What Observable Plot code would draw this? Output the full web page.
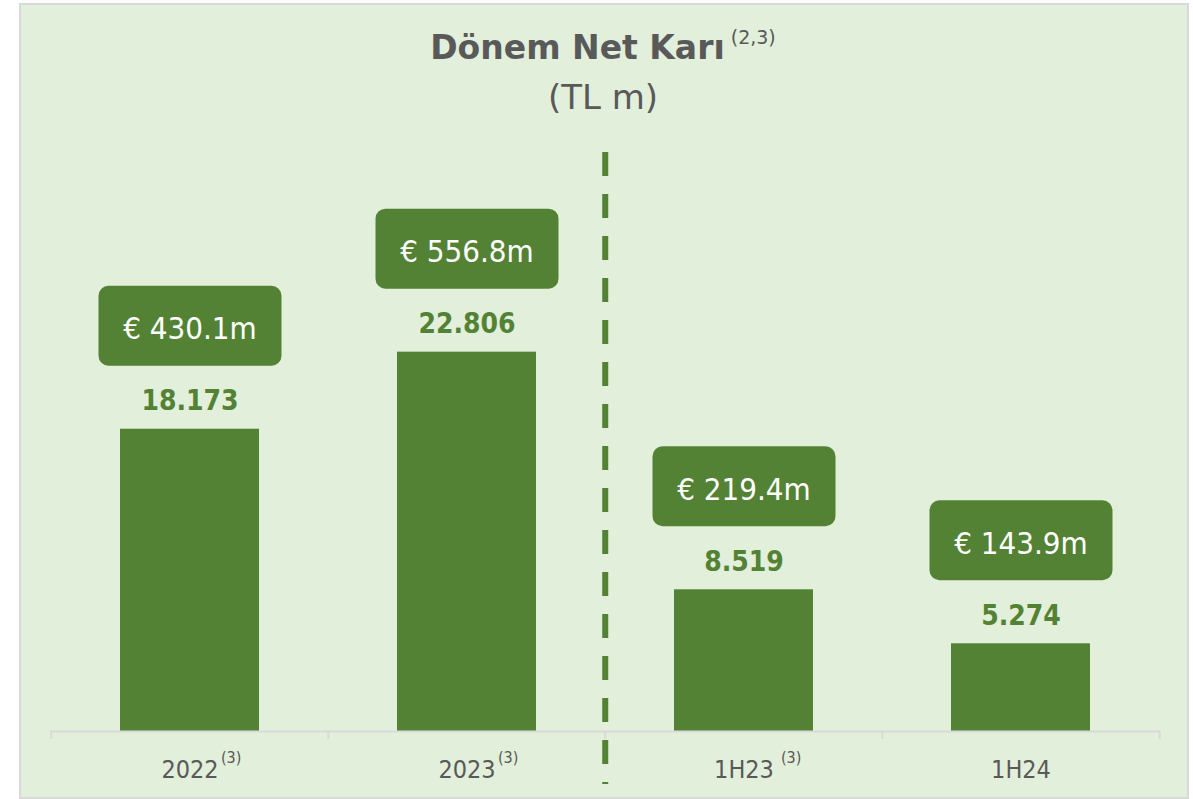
<!DOCTYPE html>
<html>
<head>
<meta charset="utf-8">
<script src="https://cdn.jsdelivr.net/npm/d3@7"></script>
<script src="https://cdn.jsdelivr.net/npm/@observablehq/plot@0.6"></script>
<style>
  html, body { margin: 0; padding: 0; background: #ffffff; }
  #wrap { position: relative; width: 1193px; height: 799px; overflow: hidden; }
  #panel { position: absolute; left: 19px; top: 3px; width: 1170px; height: 796px; box-sizing: border-box;
           border: 2px solid #d9d9d9; background: #e2efda; }
  #title { position: absolute; left: 0; top: 0; width: 1206px; height: 130px; text-align: center;
           color: #595959; font-family: "DejaVu Sans", sans-serif; }
  #t1 { position: absolute; left: 0; top: 28px; width: 100%; font-size: 33px; line-height: 40px; font-weight: bold; white-space: nowrap; }
  #t1 .sup { font-size: 19px; font-weight: normal; position: relative; top: -15px; margin-left: 6px; }
  #t2 { position: absolute; left: 0; top: 77px; width: 100%; font-size: 34px; line-height: 40px; white-space: nowrap; }
  #chart { position: absolute; left: 0; top: 130px; }
</style>
</head>
<body>
<div id="wrap">
  <div id="panel"></div>
  <div id="title">
    <div id="t1">Dönem Net Karı<span class="sup">(2,3)</span></div>
    <div id="t2">(TL m)</div>
  </div>
  <div id="chart"></div>
</div>
<script>
// ---- Data ----
const categories = ["2022", "2023", "1H23", "1H24"];
const values = [18173, 22806, 8519, 5274];
const valueLabels = ["18.173", "22.806", "8.519", "5.274"];
const euroLabels = ["€ 430.1m", "€ 556.8m", "€ 219.4m", "€ 143.9m"];
const superscripts = ["(3)", "(3)", "(3)", ""];

// ---- Layout / style ----
const W = 1193, H = 669, mT = 22, mB = 68, mL = 50, mR = 33;
const plotH = H - mT - mB;
const yMax = 34810;
const pxToY = yMax / plotH;
const step = (W - mL - mR) / categories.length;
const half = step / 2;
const green = "#548235";
const grey = "#d9d9d9";
const textGrey = "#595959";
const condensed = "'DejaVu Sans Condensed', 'DejaVu Sans', sans-serif";
const narrow = "'DejaVu Sans Condensed', sans-serif";

const data = categories.map((c, i) => ({
  cat: c, value: values[i], label: valueLabels[i], euro: euroLabels[i], sup: superscripts[i]
}));

// rounded-rectangle symbol for the euro call-outs
const roundBox = {
  draw(ctx) {
    const w = 91.5, h = 40, r = 10;
    ctx.moveTo(-w + r, -h);
    ctx.lineTo(w - r, -h);
    ctx.arcTo(w, -h, w, -h + r, r);
    ctx.lineTo(w, h - r);
    ctx.arcTo(w, h, w - r, h, r);
    ctx.lineTo(-w + r, h);
    ctx.arcTo(-w, h, -w, h - r, r);
    ctx.lineTo(-w, -h + r);
    ctx.arcTo(-w, -h, -w + r, -h, r);
    ctx.closePath();
  }
};

const chart = Plot.plot({
  width: W, height: H,
  marginTop: mT, marginBottom: mB, marginLeft: mL, marginRight: mR,
  x: { type: "band", domain: categories, paddingInner: 0.5, paddingOuter: 0.25, axis: null },
  y: { domain: [0, yMax], axis: null },
  style: { background: "transparent", overflow: "visible" },
  marks: [
    Plot.barY(data, { x: "cat", y: "value", fill: green }),
    Plot.ruleY([0], { stroke: grey, strokeWidth: 2 }),
    Plot.ruleX(categories, { x: d => d, y1: 0, y2: -8 * pxToY, dx: -half, stroke: grey, strokeWidth: 2 }),
    Plot.ruleX([categories[categories.length - 1]], { x: d => d, y1: 0, y2: -8 * pxToY, dx: half, stroke: grey, strokeWidth: 2 }),
    Plot.ruleX([categories[2]], { x: d => d, dx: -half, insetBottom: -53, stroke: green, strokeWidth: 6, strokeDasharray: "24 18" }),
    Plot.dot(data, { x: "cat", y: "value", dy: -103.5, symbol: roundBox, r: 10, fill: green, stroke: "none" }),
    Plot.text(data, { x: "cat", y: "value", text: "euro", dy: -100, fill: "white", fontSize: 31, fontFamily: condensed }),
    Plot.text(data, { x: "cat", y: "value", text: "label", dy: -28, fill: green, fontSize: 28, fontWeight: "bold", fontFamily: condensed }),
    Plot.text(data, { x: "cat", y: 0, text: "cat", lineAnchor: "bottom", dy: 46, fill: textGrey, fontSize: 25, fontFamily: narrow }),
    Plot.text(data.filter(d => d.sup && d.cat !== "1H23"), { x: "cat", y: 0, text: "sup", textAnchor: "start", lineAnchor: "bottom", dx: 31, dy: 31, fill: textGrey, fontSize: 16, fontFamily: narrow }),
    Plot.text(data.filter(d => d.sup && d.cat === "1H23"), { x: "cat", y: 0, text: "sup", textAnchor: "start", lineAnchor: "bottom", dx: 37, dy: 31, fill: textGrey, fontSize: 16, fontFamily: narrow })
  ]
});
document.getElementById("chart").appendChild(chart);
</script>
</body>
</html>
